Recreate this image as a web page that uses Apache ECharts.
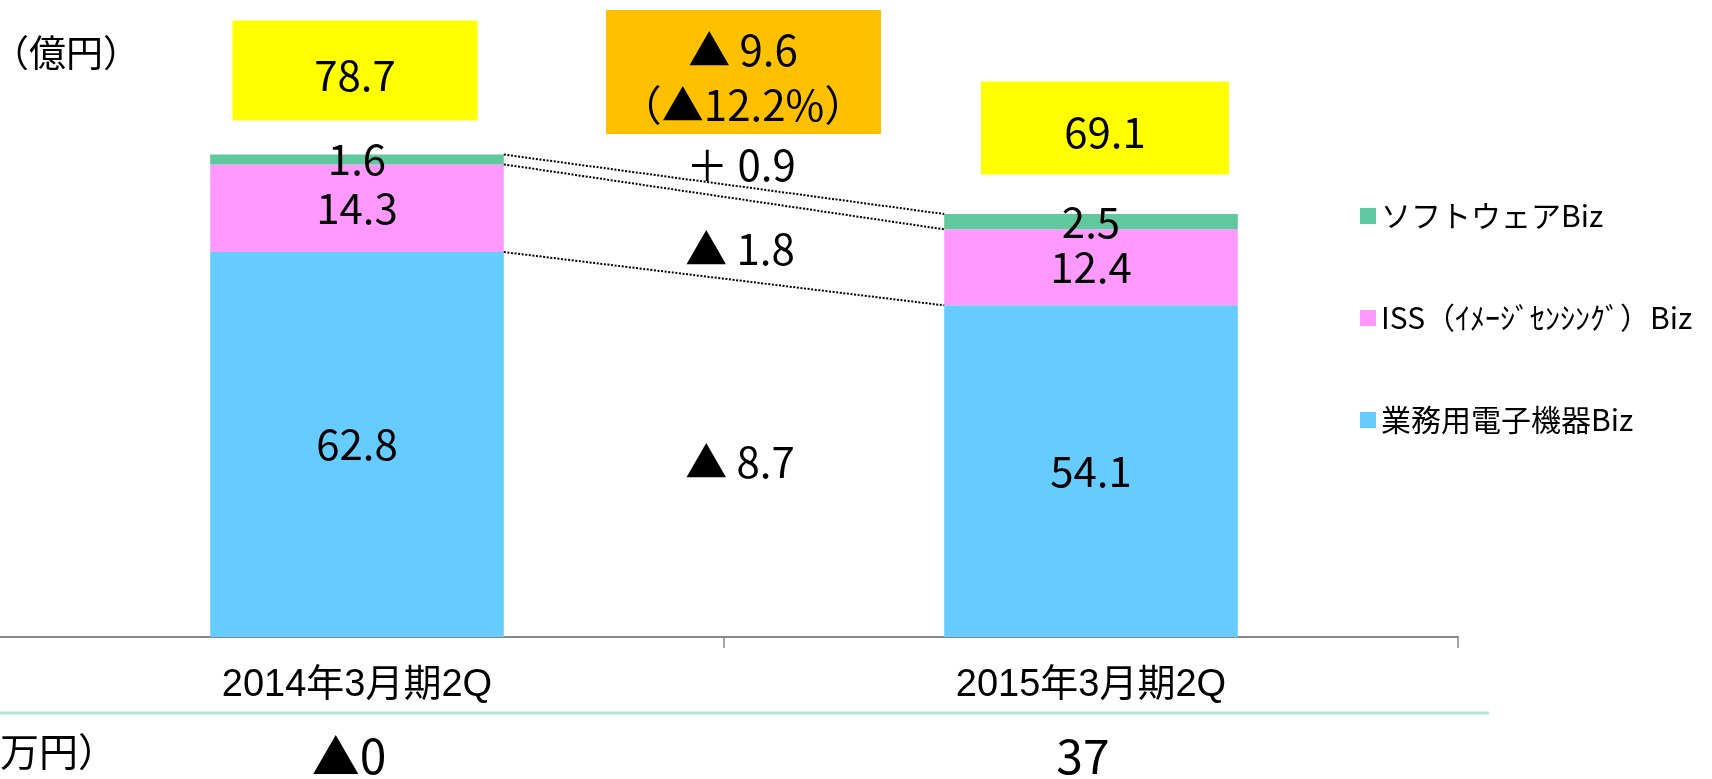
<!DOCTYPE html>
<html>
<head>
<meta charset="utf-8">
<script src="https://cdn.jsdelivr.net/npm/echarts@6/dist/echarts.min.js"></script>
<style>
html,body{margin:0;padding:0;background:#fff;}
#main{width:1712px;height:779px;}
</style>
</head>
<body>
<div id="main"></div>
<script>
// ---- data ----
const categories = ['2014年3月期2Q', '2015年3月期2Q'];
const seriesNames = ['業務用電子機器Biz', 'ISS（ｲﾒｰｼﾞｾﾝｼﾝｸﾞ）Biz', 'ソフトウェアBiz'];
const equipmentBiz = [62.8, 54.1];
const issBiz = [14.3, 12.4];
const softwareBiz = [1.6, 2.5];
const totals = [78.7, 69.1];
const totalChange = ['▲ 9.6', '（▲12.2%）'];
const segmentChanges = ['＋ 0.9', '▲ 1.8', '▲ 8.7'];
const bottomValues = ['▲0', '37'];
const unitTop = '（億円）';
const unitBottom = '（百万円）';

// ---- styles ----
const NUM_FONT = "'Liberation Sans Narrow', 'Noto Sans CJK JP', sans-serif";
const JP_FONT = "'Noto Sans CJK JP', sans-serif";
const colors = ['#66CCFF', '#FF99FF', '#5FC89E'];
const boxLayout = [{dx: -2, gap: 34, w: 245, h: 100}, {dx: 14, gap: 39, w: 248, h: 93}];

// cumulative boundaries for connectors
const seriesValues = [equipmentBiz, issBiz, softwareBiz];
const connectors = [];
let c0 = 0, c1 = 0;
seriesValues.forEach(arr => {
  c0 += arr[0]; c1 += arr[1];
  connectors.push([0, +c0.toFixed(2), +c1.toFixed(2)]);
});

const chart = echarts.init(document.getElementById('main'));

const barLabel = {
  show: true, position: 'inside', formatter: '{c}',
  fontSize: 42, fontFamily: NUM_FONT, color: '#000', textBorderWidth: 0
};

const barSeries = seriesValues.map((arr, i) => ({
  name: seriesNames[i],
  type: 'bar',
  stack: 'total',
  barWidth: '40%',
  data: arr,
  itemStyle: {color: colors[i]},
  label: barLabel,
  z: 2
}));

chart.setOption({
  animation: false,
  backgroundColor: '#fff',
  grid: {left: -10, right: 254, top: 24, bottom: 142, containLabel: false, outerBoundsMode: 'none'},
  legend: {
    data: [seriesNames[2], seriesNames[1], seriesNames[0]],
    orient: 'vertical',
    left: 1355, top: 195,
    itemWidth: 16, itemHeight: 16, itemGap: 70,
    icon: 'rect',
    selectedMode: false,
    textStyle: {fontSize: 30, lineHeight: 32, fontFamily: JP_FONT, color: '#000'}
  },
  xAxis: {
    type: 'category',
    data: categories,
    axisLine: {lineStyle: {color: '#888888', width: 2}},
    axisTick: {show: true, length: 11, lineStyle: {color: '#888888', width: 1.5}},
    axisLabel: {margin: 30, fontSize: 38, color: '#000', fontFamily: "'Liberation Sans', 'Noto Sans CJK JP', sans-serif"}
  },
  yAxis: {type: 'value', min: 0, max: 100, show: false, splitLine: {show: false}},
  series: barSeries.concat([
    {
      type: 'custom',
      name: 'connectors',
      clip: false,
      silent: true,
      encode: {x: 0, y: 1},
      data: connectors,
      renderItem: function (params, api) {
        const p0 = api.coord([0, api.value(1)]);
        const p1 = api.coord([1, api.value(2)]);
        const half = api.size([1, 0])[0] * 0.4 / 2;
        return {
          type: 'line',
          shape: {x1: p0[0] + half, y1: p0[1], x2: p1[0] - half, y2: p1[1]},
          style: {stroke: '#000', lineWidth: 2, lineDash: [2, 1.6]}
        };
      },
      z: 3
    },
    {
      type: 'custom',
      name: 'totals',
      clip: false,
      silent: true,
      encode: {x: 0, y: 1},
      data: totals.map((v, i) => [i, v]),
      renderItem: function (params, api) {
        const i = params.dataIndex;
        const p = api.coord([i, api.value(1)]);
        const L = boxLayout[i];
        const x = p[0] + L.dx - L.w / 2;
        const y = p[1] - L.gap - L.h;
        return {
          type: 'group',
          children: [
            {type: 'rect', shape: {x: x, y: y, width: L.w, height: L.h}, style: {fill: '#FFFF00'}},
            {type: 'text', style: {text: String(totals[i]), x: x + L.w / 2, y: y + L.h / 2 + 4,
              align: 'center', verticalAlign: 'middle', fontSize: 42, fontFamily: NUM_FONT, fill: '#000'}}
          ]
        };
      },
      z: 4
    },
    {
      type: 'custom',
      name: 'bottomValues',
      clip: false,
      silent: true,
      encode: {x: 0, y: 1},
      data: bottomValues.map((v, i) => [i, 0]),
      renderItem: function (params, api) {
        const i = params.dataIndex;
        const p = api.coord([i, 0]);
        return {
          type: 'text',
          style: {text: bottomValues[i], x: p[0] - 8, y: 756, align: 'center', verticalAlign: 'middle',
            fontSize: 48, fontFamily: NUM_FONT, fill: '#000'}
        };
      },
      z: 4
    }
  ]),
  graphic: [
    {type: 'text', style: {text: unitTop, x: -8, y: 53, align: 'left', verticalAlign: 'middle',
      fontSize: 37, fontFamily: JP_FONT, fill: '#000'}},
    {type: 'rect', shape: {x: 606, y: 10, width: 275, height: 124}, style: {fill: '#FFC000'}},
    {type: 'text', style: {text: totalChange[0], x: 743, y: 50, align: 'center', verticalAlign: 'middle',
      fontSize: 42, fontFamily: NUM_FONT, fill: '#000'}},
    {type: 'text', style: {text: totalChange[1], x: 743, y: 105, align: 'center', verticalAlign: 'middle',
      fontSize: 42, fontFamily: NUM_FONT, fill: '#000'}},
    {type: 'text', style: {text: segmentChanges[0], x: 741, y: 165, align: 'center', verticalAlign: 'middle',
      fontSize: 42, fontFamily: NUM_FONT, fill: '#000'}},
    {type: 'text', style: {text: segmentChanges[1], x: 740, y: 249, align: 'center', verticalAlign: 'middle',
      fontSize: 42, fontFamily: NUM_FONT, fill: '#000'}},
    {type: 'text', style: {text: segmentChanges[2], x: 740, y: 462, align: 'center', verticalAlign: 'middle',
      fontSize: 42, fontFamily: NUM_FONT, fill: '#000'}},
    {type: 'line', shape: {x1: 0, y1: 713, x2: 1489, y2: 713}, style: {stroke: '#B4E8D0', lineWidth: 3}},
    {type: 'text', style: {text: unitBottom, x: -78, y: 751, align: 'left', verticalAlign: 'middle',
      fontSize: 39, fontFamily: JP_FONT, fill: '#000'}}
  ]
});
</script>
</body>
</html>
